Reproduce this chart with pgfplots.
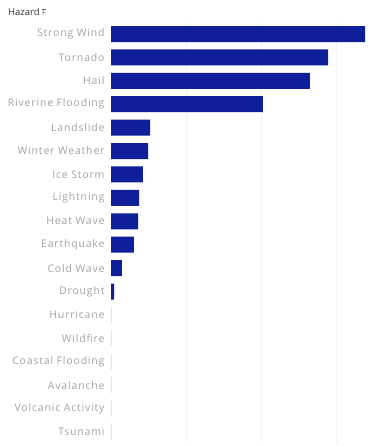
\documentclass[border=0pt]{standalone}
\usepackage{pgfplots}
\pgfplotsset{compat=1.18}
\usepackage{fontspec}
\setmainfont{Open Sans}
\definecolor{barblue}{HTML}{0F1F99}
\definecolor{lbl}{HTML}{A2A2A2}
\begin{document}
\begin{tikzpicture}
\useasboundingbox (0,0) rectangle (370bp,446bp);
\begin{axis}[
  at={(111bp,2.3bp)}, anchor=south west,
  scale only axis, width=257bp, height=421.4bp,
  xbar, bar width=16bp, bar shift=0pt,
  xmin=0, xmax=68.5, ymin=-0.5, ymax=17.5, y dir=reverse,
  ytick={0,...,17},
  yticklabels={Strong Wind,Tornado,Hail,Riverine Flooding,Landslide,Winter Weather,Ice Storm,Lightning,Heat Wave,Earthquake,Cold Wave,Drought,Hurricane,Wildfire,Coastal Flooding,Avalanche,Volcanic Activity,Tsunami},
  xtick={20,40,60}, xticklabels={}, xmajorgrids, grid style={color=black!5},
  axis line style={draw=none}, major tick length=0,
  yticklabel style={font=\fontsize{10.5}{12}\selectfont\addfontfeatures{LetterSpace=8}, text=lbl, xshift=-3bp},
]
\addplot[fill=barblue, draw=none] coordinates {
(67.7,0) (57.9,1) (53.0,2) (40.5,3) (10.4,4) (9.9,5) (8.5,6) (7.5,7) (7.2,8) (6.1,9) (2.9,10) (0.8,11)
(0,12) (0,13) (0,14) (0,15) (0,16) (0,17)};
\end{axis}
\node[anchor=west, font=\fontsize{9.5}{11}\selectfont, text=black!80, inner sep=0pt] at (8bp,434bp) {Hazard \textcolor{black!60}{\fontsize{8}{9}\selectfont$\overline{\mathrm{F}}$}};
\end{tikzpicture}
\end{document}
